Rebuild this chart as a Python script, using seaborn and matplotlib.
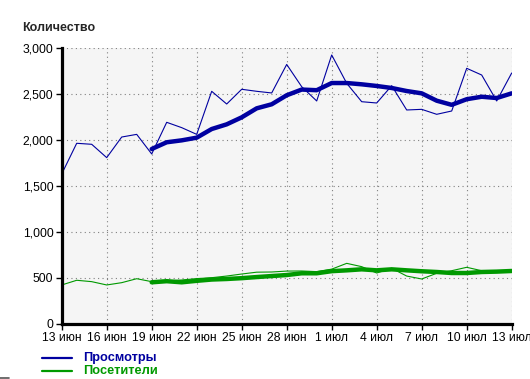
"""
Daily views / visitors with 7-day average, 13 Jun - 13 Jul.
"""

import matplotlib
matplotlib.use("Agg")
import matplotlib.pyplot as plt
import matplotlib.ticker as mticker
from matplotlib.lines import Line2D
import numpy as np
import pandas as pd
import seaborn as sns

# x axis: one point per day
dates = pd.date_range("2024-06-13", "2024-07-13", freq="D")
tick_labels = ["13 июн", "16 июн", "19 июн", "22 июн", "25 июн", "28 июн",
               "1 июл", "4 июл", "7 июл", "10 июл", "13 июл"]

# Просмотры (daily) and its smoothed line (starts on 19 июн)
views = [1627, 1961, 1950, 1805, 2029, 2058, 1845, 2189, 2131, 2058, 2526,
         2388, 2548, 2526, 2508, 2818, 2576, 2421, 2921, 2613, 2413, 2399,
         2587, 2323, 2330, 2276, 2312, 2776, 2703, 2421, 2725]
views_avg = [np.nan] * 6 + [1899, 1972, 1993, 2022, 2116, 2167, 2243, 2341,
                            2385, 2483, 2545, 2538, 2616, 2616, 2602, 2584,
                            2562, 2529, 2504, 2424, 2379, 2440, 2467, 2453, 2504]

# Посетители (daily) and its smoothed line
visitors = [421, 472, 457, 421, 446, 489, 457, 464, 475, 490, 500, 518, 540,
            560, 562, 572, 573, 566, 593, 656, 620, 551, 602, 518, 486, 548,
            576, 613, 576, 566, 584]
visitors_avg = [np.nan] * 6 + [450, 462, 450, 466, 480, 486, 495, 507, 518,
                               529, 548, 548, 571, 580, 591, 580, 591, 580,
                               570, 562, 551, 551, 562, 566, 573]

blue = "#0000a0"
green = "#009900"

df = pd.DataFrame({"date": dates, "views": views, "views_avg": views_avg,
                   "visitors": visitors, "visitors_avg": visitors_avg})

sns.set_theme(style="white")
plt.rcParams["font.family"] = ["Liberation Sans", "DejaVu Sans"]

fig = plt.figure(figsize=(5.3, 3.79), dpi=100)
ax = fig.add_axes([61.7 / 530, 1 - 323.7 / 379, 450 / 530, 276 / 379])
ax.set_facecolor("#f5f5f5")

# thin daily lines, thick averages on top
sns.lineplot(data=df, x="date", y="views", ax=ax, color=blue, linewidth=0.8)
sns.lineplot(data=df, x="date", y="visitors", ax=ax, color=green, linewidth=0.8)
sns.lineplot(data=df, x="date", y="views_avg", ax=ax, color=blue, linewidth=3.2)
sns.lineplot(data=df, x="date", y="visitors_avg", ax=ax, color=green, linewidth=3.2)

ax.set_xlim(dates[0], dates[-1])
ax.set_ylim(0, 3000)
ax.set_xticks(dates[::3])
ax.set_xticklabels(tick_labels)
ax.set_yticks(range(0, 3001, 500))
ax.yaxis.set_major_formatter(mticker.StrMethodFormatter("{x:,.0f}"))
ax.set_xlabel("")
ax.set_ylabel("")

ax.grid(True, color="#808080", linestyle=(0, (1, 3)), linewidth=0.8)
for side in ["top", "right"]:
    ax.spines[side].set_visible(False)
for side in ["left", "bottom"]:
    ax.spines[side].set_color("black")
    ax.spines[side].set_linewidth(2.3)
ax.tick_params(axis="both", direction="out", length=4, width=1, color="black",
               labelsize=8.7, labelcolor="black", pad=2, bottom=True, left=True)

# title
fig.text(22 / 530, 1 - 28 / 379, "Количество", fontsize=9, fontweight="bold",
         ha="left", va="center")

# legend under the plot
for y, txt, c in [(358, "Просмотры", blue), (371, "Посетители", green)]:
    fig.add_artist(Line2D([42 / 530, 72 / 530], [1 - y / 379, 1 - y / 379],
                          color=c, linewidth=1.6))
    fig.text(83 / 530, 1 - y / 379, txt, color=c, fontsize=9.2,
             fontweight="bold", ha="left", va="center")

# small mark in the corner
fig.add_artist(Line2D([0, 9 / 530], [1 - 377.5 / 379, 1 - 377.5 / 379],
                      color="#555555", linewidth=1.2))

fig.savefig("out.png", dpi=100)
